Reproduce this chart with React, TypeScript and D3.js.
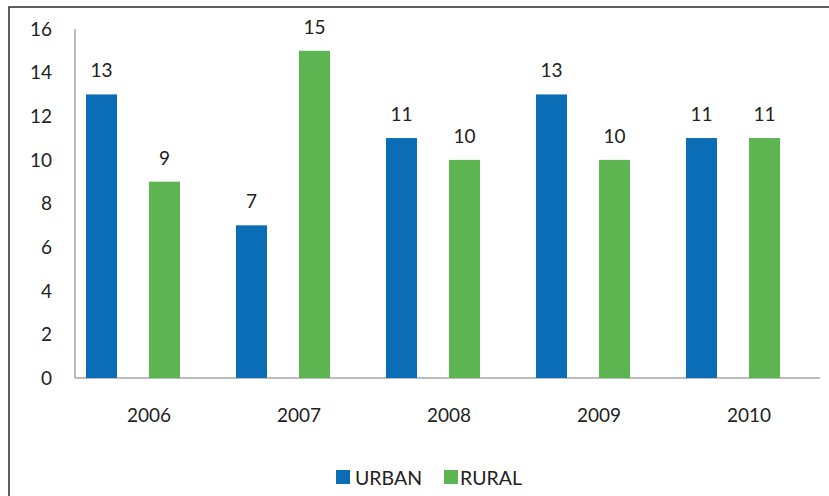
import React from "react";
import * as d3 from "d3";

const categories = ["2006", "2007", "2008", "2009", "2010"];
const seriesNames = ["URBAN", "RURAL"];
const urban = [13, 7, 11, 13, 11];
const rural = [9, 15, 10, 10, 11];
const yTicks = [0, 2, 4, 6, 8, 10, 12, 14, 16];

const colors: Record<string, string> = { URBAN: "#0B6DB5", RURAL: "#5CB550" };
const FONT = "Lato, 'Open Sans', sans-serif";

export default function App() {
  const W = 829, H = 496;
  const x = d3.scaleBand<string>().domain(categories).range([75, 825]).padding(0);
  const inner = d3.scaleBand<string>().domain(seriesNames).range([11, 105]).paddingInner(0.508).paddingOuter(0);
  const y = d3.scaleLinear().domain([0, 16]).range([378, 29]);
  const values: Record<string, number[]> = { URBAN: urban, RURAL: rural };

  return (
    <svg width={W} height={H} style={{ position: "absolute", left: 0, top: 0, background: "#fff" }} fontFamily={FONT}>
      <rect x={9} y={7} width={W + 10} height={H + 10} fill="#fff" stroke="#2a2a2a" strokeWidth={1.5} />
      {/* axes */}
      <line x1={75} x2={75} y1={y(16)} y2={y(0)} stroke="#a6a6a6" strokeWidth={1.5} />
      <line x1={75} x2={820} y1={y(0)} y2={y(0)} stroke="#a6a6a6" strokeWidth={1.5} />
      {yTicks.map((t) => (
        <text key={t} x={52} y={y(t)} dy="0.36em" textAnchor="end" fontSize={19} fill="#222">
          {t}
        </text>
      ))}
      {categories.map((c) => (
        <text key={c} x={(x(c) ?? 0) + x.bandwidth() / 2 - 1} y={422} textAnchor="middle" fontSize={19} fill="#222">
          {c}
        </text>
      ))}
      {seriesNames.map((s) =>
        categories.map((c, i) => {
          const v = values[s][i];
          const bx = (x(c) ?? 0) + (inner(s) ?? 0);
          return (
            <g key={s + c}>
              <rect x={bx} y={y(v)} width={inner.bandwidth()} height={y(0) - y(v)} fill={colors[s]} />
              <text x={bx + inner.bandwidth() / 2} y={y(v) - 17} textAnchor="middle" fontSize={19} fill="#222">
                {v}
              </text>
            </g>
          );
        })
      )}
      {/* legend */}
      {[
        { s: "URBAN", sx: 336, tx: 355 },
        { s: "RURAL", sx: 444, tx: 460 },
      ].map((l) => (
        <g key={l.s}>
          <rect x={l.sx} y={470} width={14} height={14} fill={colors[l.s]} />
          <text x={l.tx} y={484.5} fontSize={19.5} fill="#222">
            {l.s}
          </text>
        </g>
      ))}
    </svg>
  );
}
